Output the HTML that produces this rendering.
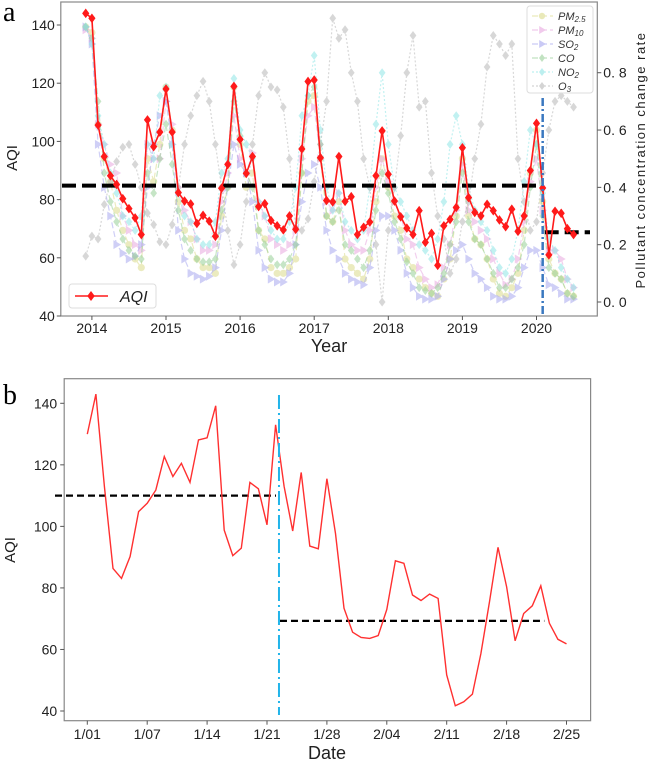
<!DOCTYPE html>
<html><head><meta charset="utf-8"><style>
html,body{margin:0;padding:0;background:#fff;}
svg{display:block;font-family:"Liberation Sans","DejaVu Sans",sans-serif;}
</style></head><body>
<svg id="chart" width="649" height="762" viewBox="0 0 649 762" xmlns="http://www.w3.org/2000/svg">
<text x="3" y="21" font-family="Liberation Serif,serif" font-size="28">a</text>
<text x="3" y="404" font-family="Liberation Serif,serif" font-size="28">b</text>
<g id="pa"></g>
<g id="pb"></g>
</svg>
<script>
// ---------- Panel A data (monthly, Dec 2013 .. Jul 2020) ----------
const aqiMonthly = [144,
142.3,105.6,94.8,88.2,85.2,80.3,76.9,73.7,68,107.4,98.2,103.2,
118,103.2,82.4,79.5,78.5,71.8,74.6,72.6,67.4,83.9,92.1,118.9,
100.7,89,94.8,77.6,78.6,72.8,71,69.6,74.4,69.8,97.4,120.6,
121.1,94.4,79.7,79.2,94.8,79.4,81,68,70.5,72.3,88.2,103.6,
88.7,79.5,74.1,70.2,68,76.2,65.3,68.4,57.4,71,73.2,77.3,
97.8,80.7,75.6,74.4,78.4,76.2,73,70.7,76.7,69.1,74.4,90,
106.2,84,61,76,75.3,70,68];
const pm25 = [.96,
.94,.62,.50,.42,.32,.25,.20,.15,.12,.50,.42,.55,
.75,.60,.35,.25,.22,.15,.12,.12,.10,.30,.40,.75,
.55,.40,.45,.25,.22,.12,.10,.10,.12,.15,.45,.70,
.72,.50,.30,.28,.35,.15,.12,.10,.08,.15,.35,.50,
.40,.30,.25,.15,.12,.08,.05,.03,.02,.08,.15,.30,
.50,.30,.22,.20,.15,.08,.03,.02,.05,.10,.25,.45,
.60,.35,.15,.10,.08,.03,.02];
const pm10 = [.95,
.92,.62,.55,.48,.45,.30,.25,.20,.18,.55,.50,.50,
.70,.62,.40,.32,.28,.22,.18,.18,.20,.35,.45,.65,
.50,.45,.52,.35,.30,.22,.20,.18,.20,.25,.50,.65,
.68,.50,.35,.32,.38,.25,.20,.18,.18,.25,.40,.50,
.42,.35,.30,.22,.20,.12,.08,.05,.06,.12,.20,.32,
.48,.32,.28,.25,.22,.15,.10,.06,.08,.15,.28,.42,
.50,.32,.18,.18,.15,.08,.05];
const so2 = [.96,
.90,.55,.40,.30,.20,.17,.15,.16,.20,.40,.55,.65,
.70,.55,.25,.15,.10,.09,.08,.09,.12,.25,.40,.55,
.48,.45,.35,.18,.12,.08,.07,.07,.10,.20,.35,.45,
.48,.40,.25,.18,.15,.10,.08,.07,.06,.12,.25,.30,
.30,.25,.18,.10,.05,.02,.01,.01,.02,.08,.15,.18,
.20,.15,.10,.08,.05,.02,.01,.01,.02,.05,.12,.18,
.18,.12,.06,.05,.03,.01,.01];
const co = [.96,
.92,.70,.45,.35,.28,.22,.18,.16,.15,.45,.38,.50,
.62,.48,.32,.22,.18,.15,.14,.14,.15,.32,.40,.70,
.58,.45,.40,.25,.20,.15,.13,.13,.15,.20,.45,.72,
.75,.55,.30,.28,.32,.20,.18,.15,.12,.18,.32,.45,
.38,.28,.22,.14,.10,.05,.04,.03,.05,.10,.20,.28,
.45,.28,.22,.20,.15,.10,.05,.05,.08,.12,.20,.40,
.55,.30,.12,.10,.08,.03,.02];
const no2 = [.96,
.90,.65,.55,.45,.38,.30,.28,.25,.30,.55,.50,.72,
.75,.55,.38,.30,.28,.22,.20,.20,.28,.45,.50,.78,
.60,.55,.50,.35,.30,.25,.22,.22,.28,.40,.65,.72,
.86,.60,.40,.32,.38,.28,.25,.22,.25,.40,.62,.80,
.55,.40,.35,.30,.25,.20,.18,.15,.22,.35,.55,.65,
.55,.40,.32,.28,.25,.18,.12,.10,.15,.25,.42,.60,
.55,.38,.22,.18,.12,.08,.05];
const o3 = [.16,
.23,.22,.34,.42,.49,.54,.55,.48,.40,.31,.27,.21,
.20,.27,.40,.55,.65,.72,.77,.70,.55,.40,.25,.13,
.20,.35,.55,.72,.80,.75,.74,.68,.50,.26,.25,.29,
.42,.55,.70,.99,.92,.95,.80,.70,.50,.40,.20,.00,
.25,.40,.58,.80,.93,.68,.70,.45,.30,.22,.10,.15,
.28,.35,.50,.62,.82,.93,.90,.86,.90,.50,.35,.25,
.28,.45,.60,.70,.72,.70,.68];
const startYear = 2013 + 11/12;
const aqiTicksA = [40,60,80,100,120,140];
const rateTicks = [0.0,0.2,0.4,0.6,0.8];
const yearTicks = [2014,2015,2016,2017,2018,2019,2020];
const meanBefore = 84.8, meanAfter = 68.8, breakYear = 2020 + 1/12;

// ---------- Panel B data (daily, 1/01 .. 2/26) ----------
const aqiDaily = [130,143,113,86.3,83.1,90.2,104.8,107.5,111.8,122.7,116.2,120.5,114.3,128.1,128.8,139.2,98.8,90.5,92.9,114.3,112.2,100.5,133,113,98.5,117.5,93.6,92.7,115.5,97.7,73.4,65.6,63.9,63.6,64.5,73,88.8,88,77.7,75.9,78,76.6,51.7,41.7,43,45.5,58.7,75.5,93.2,80.4,62.8,71.7,74.2,80.7,68.5,63.3,61.8];
const dateLabels = ["1/01","1/07","1/14","1/21","1/28","2/04","2/11","2/18","2/25"];
const aqiTicksB = [40,60,80,100,120,140];
const meanB1 = 110, meanB2 = 69.3, breakIdx = 22.4;

const NS = "http://www.w3.org/2000/svg";
function mk(parent, tag, attrs){const e=document.createElementNS(NS,tag);for(const k in attrs)e.setAttribute(k,attrs[k]);parent.appendChild(e);return e;}

// ---------- Panel A ----------
(function(){
const g = document.getElementById('pa');
const L=60.8,R=597.3,T=2,B=316;
const xA = t => 91.9 + (t-2014)*74.1;
const yA = v => 316 - (v-40)*2.91;
const yR = r => 302 - r*286.6;
const tOf = i => startYear + i/12;

const series = [
 {d:pm25,c:"#dcdc8c",m:"circle",dash:"6,3",name:"pm25-series"},
 {d:pm10,c:"#e8a8e0",m:"tri",dash:"6,3",name:"pm10-series"},
 {d:so2,c:"#a8a8f0",m:"tri",dash:"6,3",name:"so2-series"},
 {d:co,c:"#98d098",m:"diam",dash:"6,3",name:"co-series"},
 {d:no2,c:"#90e6e6",m:"diam",dash:"2,2",name:"no2-series"},
 {d:o3,c:"#b8b8b8",m:"diam",dash:"2,2",name:"o3-series"}];
function marker(parent,type,x,y,c,s){
  let e;
  if(type==="circle") e=mk(parent,'circle',{cx:x,cy:y,r:s*0.8,fill:c});
  else if(type==="tri") e=mk(parent,'polygon',{points:`${x-s*0.7},${y-s} ${x+s},${y} ${x-s*0.7},${y+s}`,fill:c});
  else e=mk(parent,'polygon',{points:`${x},${y-s} ${x+s*0.75},${y} ${x},${y+s} ${x-s*0.75},${y}`,fill:c});
  return e;
}
series.forEach(s=>{
  const sg=mk(g,'g',{opacity:0.55});
  
  
  const pts=s.d.map((v,i)=>`${xA(tOf(i)).toFixed(1)},${yR(v).toFixed(1)}`).join(' ');
  mk(sg,'polyline',{points:pts,fill:'none',stroke:s.c,'stroke-width':1.2,'stroke-dasharray':s.dash});
  s.d.forEach((v,i)=>{const m=marker(sg,s.m,xA(tOf(i)),yR(v),s.c,4.5);
    
    });
});
// mean lines
const m1=mk(g,'line',{x1:62,x2:xA(breakYear),y1:yA(meanBefore),y2:yA(meanBefore),stroke:'#000','stroke-width':4,'stroke-dasharray':'14,6'});


const m2=mk(g,'line',{x1:xA(breakYear)+2,x2:590,y1:yA(meanAfter),y2:yA(meanAfter),stroke:'#000','stroke-width':4,'stroke-dasharray':'14,6'});


// AQI
const ag=mk(g,'g',{});


mk(ag,'polyline',{points:aqiMonthly.map((v,i)=>`${xA(tOf(i)).toFixed(1)},${yA(v).toFixed(1)}`).join(' '),fill:'none',stroke:'#ff1a1a','stroke-width':1.6});
aqiMonthly.forEach((v,i)=>{const m=marker(ag,'diam',xA(tOf(i)),yA(v),'#ff1a1a',4.8);
  
  });
// break line
const bl=mk(g,'line',{x1:xA(breakYear),x2:xA(breakYear),y1:98,y2:B,stroke:'#3a78c0','stroke-width':2.5,'stroke-dasharray':'8,3,2,3'});


// frame
const fr=mk(g,'rect',{x:L,y:T,width:R-L,height:B-T,fill:'none',stroke:'#888','stroke-width':1.2});


aqiTicksA.forEach(v=>{mk(g,'line',{x1:L-4,x2:L,y1:yA(v),y2:yA(v),stroke:'#555'});
  const t=mk(g,'text',{x:L-6,y:yA(v)+5,'text-anchor':'end','font-size':14,fill:'#222'});t.textContent=v;
  
  });
rateTicks.forEach(r=>{mk(g,'line',{x1:R,x2:R+4,y1:yR(r),y2:yR(r),stroke:'#555'});
  const t=mk(g,'text',{x:R+6,y:yR(r)+5,'font-size':14,fill:'#222'});t.textContent=r.toFixed(1).replace('.','. ');
  
  });
yearTicks.forEach(y=>{mk(g,'line',{x1:xA(y),x2:xA(y),y1:B,y2:B+4,stroke:'#555'});
  const t=mk(g,'text',{x:xA(y),y:333,'text-anchor':'middle','font-size':14,fill:'#222'});t.textContent=y;
  
  });
let t=mk(g,'text',{x:329,y:352,'text-anchor':'middle','font-size':18,fill:'#222'});t.textContent='Year';


t=mk(g,'text',{x:0,y:0,transform:'translate(17,158) rotate(-90)','text-anchor':'middle','font-size':15,fill:'#222'});t.textContent='AQI';


t=mk(g,'text',{x:0,y:0,transform:'translate(645,160) rotate(-90)','text-anchor':'middle','font-size':13,fill:'#222','letter-spacing':1.5});t.textContent='Pollutant concentration change rate';


// legend pollutants
const lg=mk(g,'g',{});


mk(lg,'rect',{x:527,y:6,width:66,height:87,fill:'#fff','fill-opacity':0.85,stroke:'#ddd',rx:3});
const labs=[["PM","2.5"],["PM","10"],["SO","2"],["CO",""],["NO","2"],["O","3"]];
series.forEach((s,i)=>{const y=16+i*14;
  const eg=mk(lg,'g',{opacity:0.6});
  
  
  mk(eg,'line',{x1:532,x2:553,y1:y,y2:y,stroke:s.c,'stroke-width':1.2,'stroke-dasharray':s.dash});
  marker(eg,s.m,542,y,s.c,4);
  const tx=mk(lg,'text',{x:558,y:y+4,'font-size':11,'font-style':'italic',fill:'#333'});
  tx.innerHTML=labs[i][0]+(labs[i][1]?`<tspan font-size="8" dy="2">${labs[i][1]}</tspan>`:'');
});
// AQI legend
const al=mk(g,'g',{});


mk(al,'rect',{x:69,y:284,width:87,height:24,fill:'#fff',stroke:'#ddd',rx:3});
mk(al,'line',{x1:75,x2:108,y1:296,y2:296,stroke:'#ff1a1a','stroke-width':1.6});
marker(al,'diam',91,296,'#ff1a1a',5);
t=mk(al,'text',{x:120,y:302,'font-size':16,'font-style':'italic',fill:'#222'});t.textContent='AQI';
})();

// ---------- Panel B ----------
(function(){
const g=document.getElementById('pb');
const L=64.2,R=590.6,T=378.7,B=720.7;
const xB = i => 87.3 + i*8.557;
const yB = v => 711 - (v-40)*3.077;
const fr=mk(g,'rect',{x:L,y:T,width:R-L,height:B-T,fill:'none',stroke:'#888','stroke-width':1.2});


let e=mk(g,'line',{x1:55,x2:xB(breakIdx)-3,y1:yB(meanB1),y2:yB(meanB1),stroke:'#000','stroke-width':2.2,'stroke-dasharray':'7,4'});


e=mk(g,'line',{x1:xB(breakIdx)+1,x2:544.3,y1:yB(meanB2),y2:yB(meanB2),stroke:'#000','stroke-width':2.2,'stroke-dasharray':'7,4'});


e=mk(g,'polyline',{points:aqiDaily.map((v,i)=>`${xB(i).toFixed(1)},${yB(v).toFixed(1)}`).join(' '),fill:'none',stroke:'#ff3030','stroke-width':1.4});


e=mk(g,'line',{x1:xB(breakIdx),x2:xB(breakIdx),y1:395,y2:715,stroke:'#22b4ea','stroke-width':2,'stroke-dasharray':'14,4,2,4'});


aqiTicksB.forEach(v=>{mk(g,'line',{x1:L-4,x2:L,y1:yB(v),y2:yB(v),stroke:'#555'});
  const t=mk(g,'text',{x:L-7,y:yB(v)+5,'text-anchor':'end','font-size':14,fill:'#222'});t.textContent=v;
  
  });
dateLabels.forEach((d,k)=>{const x=xB(k*7);mk(g,'line',{x1:x,x2:x,y1:B,y2:B+4,stroke:'#555'});
  const t=mk(g,'text',{x:x,y:739,'text-anchor':'middle','font-size':14,fill:'#222'});t.textContent=d;
  
  });
let t=mk(g,'text',{x:327,y:759,'text-anchor':'middle','font-size':18,fill:'#222'});t.textContent='Date';


t=mk(g,'text',{x:0,y:0,transform:'translate(15,550) rotate(-90)','text-anchor':'middle','font-size':15,fill:'#222'});t.textContent='AQI';


})();
</script>
</body></html>
